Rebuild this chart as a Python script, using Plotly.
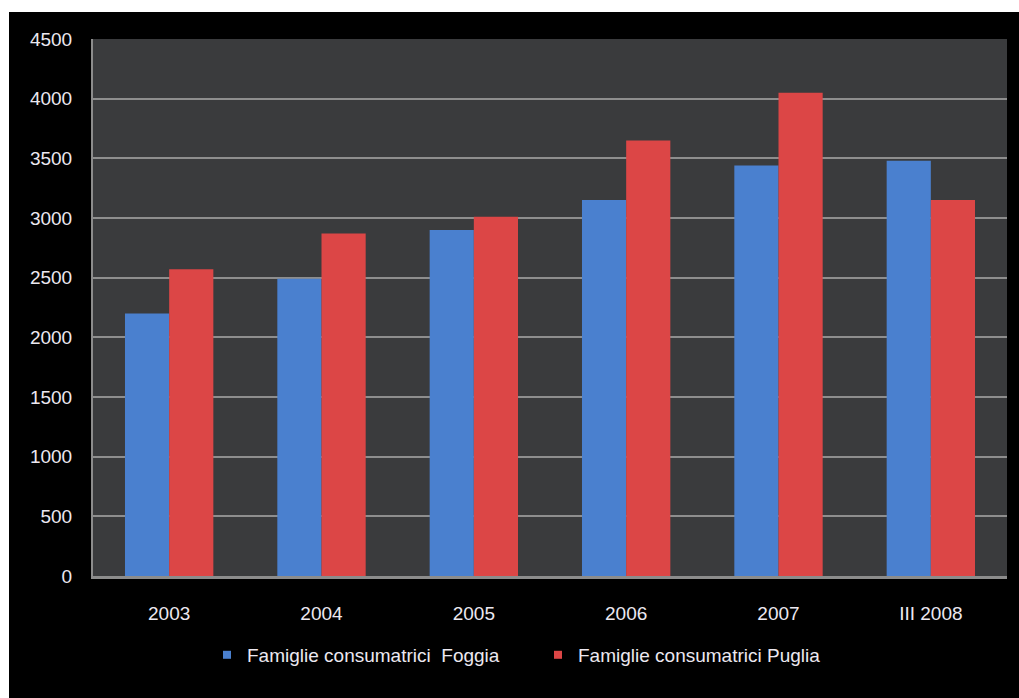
import plotly.graph_objects as go

# Category labels and series values
periods = ["2003", "2004", "2005", "2006", "2007", "III 2008"]
foggia = [2200, 2490, 2900, 3150, 3440, 3480]
puglia = [2570, 2870, 3010, 3650, 4050, 3150]

series_names = ["Famiglie consumatrici  Foggia", "Famiglie consumatrici Puglia"]
y_ticks = [0, 500, 1000, 1500, 2000, 2500, 3000, 3500, 4000, 4500]

BLUE = "#4a80cf"
RED = "#dc4646"
TEXT = "#ece8f0"
FONT = "Liberation Sans, Arial, sans-serif"

W, H = 1019, 698
ML, MR, MT, MB = 93, 12, 39, 122
pw = W - ML - MR
ph = H - MT - MB

fig = go.Figure()

fig.add_trace(go.Bar(x=periods, y=foggia, name=series_names[0], marker_color=BLUE,
                     marker_line_width=0, showlegend=False))
fig.add_trace(go.Bar(x=periods, y=puglia, name=series_names[1], marker_color=RED,
                     marker_line_width=0, showlegend=False))

# small square legend keys
for name, col in zip(series_names, [BLUE, RED]):
    fig.add_trace(go.Scatter(x=[None], y=[None], mode="markers", name=name,
                             marker=dict(symbol="square", size=8, color=col)))

# black canvas with a thin white margin on the top and left
x0 = (9 - ML) / pw
x1 = (W - ML) / pw
y1 = 1 + (MT - 12) / ph
y0 = -MB / ph
fig.add_shape(type="rect", xref="paper", yref="paper", x0=x0, x1=x1, y0=y0, y1=y1,
              fillcolor="black", line_width=0, layer="below")
fig.add_shape(type="rect", xref="paper", yref="paper", x0=0, x1=1, y0=0, y1=1,
              fillcolor="#3a3b3d", line_width=0, layer="below")

fig.update_layout(
    width=W, height=H,
    margin=dict(l=ML, r=MR, t=MT, b=MB),
    paper_bgcolor="white",
    plot_bgcolor="#3a3b3d",
    barmode="group",
    bargap=0.42,
    bargroupgap=0,
    font=dict(family=FONT, color=TEXT, size=19),
    legend=dict(orientation="h", x=(207 - ML) / pw, xanchor="left", y=-0.147, yanchor="middle",
                bgcolor="rgba(0,0,0,0)", font=dict(size=19, color=TEXT),
                itemsizing="trace", itemwidth=30, entrywidth=286, traceorder="normal"),
    xaxis=dict(showgrid=False, showline=True, linecolor="#8c8c8c", linewidth=3,
               tickfont=dict(size=19, color=TEXT), ticks="", ticklabelstandoff=18),
    yaxis=dict(range=[0, 4500], tickvals=y_ticks, showgrid=True, gridcolor="#8e8e8e",
               gridwidth=2, showline=True, linecolor="#8c8c8c", linewidth=2,
               zeroline=False, tickfont=dict(size=19, color=TEXT), ticks="",
               ticklabelstandoff=15),
)

fig.write_html("out.html")
